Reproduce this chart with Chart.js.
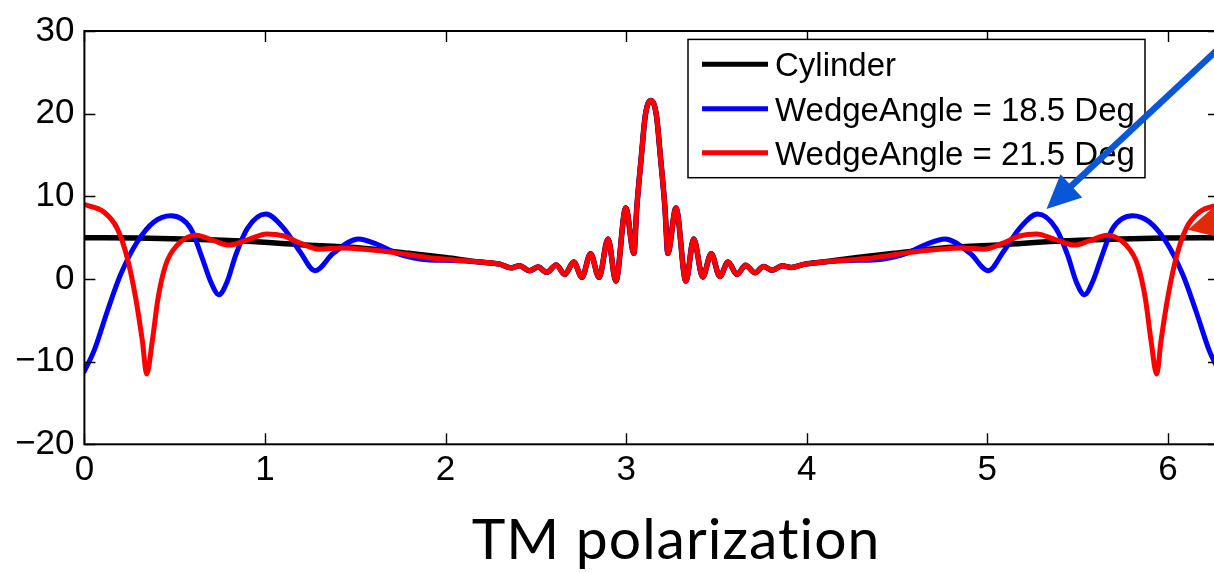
<!DOCTYPE html>
<html><head><meta charset="utf-8">
<script src="https://cdn.jsdelivr.net/npm/chart.js@4.4.1/dist/chart.umd.min.js"></script>
<style>
html,body{margin:0;padding:0;background:#fff;}
#wrap{position:relative;width:1214px;height:573px;overflow:hidden;background:#fff;}
canvas{display:block;}
</style></head><body>
<div id="wrap"><canvas id="c" width="1240" height="573"></canvas></div>
<script>
// ---- data ----
const xTicks = [0, 1, 2, 3, 4, 5, 6];
const yTicks = [-20, -10, 0, 10, 20, 30];
const seriesLabels = ['Cylinder', 'WedgeAngle = 18.5 Deg', 'WedgeAngle = 21.5 Deg'];
const seriesColors = ['#000000', '#0000ff', '#ff0000'];
const xLabel = 'TM polarization';

// shared central part (all three curves coincide)
const centerX = [2.19, 2.30, 2.36, 2.41, 2.465, 2.513, 2.56, 2.613, 2.66, 2.71, 2.755, 2.803, 2.85, 2.90, 2.943, 2.998, 3.043, 3.059, 3.085, 3.106, 3.137, 3.168, 3.189, 3.215, 3.231, 3.276, 3.331, 3.374, 3.424, 3.471, 3.519, 3.564, 3.614, 3.661, 3.714, 3.761, 3.809, 3.864, 3.914, 3.99, 4.09];
const centerY = [2.05, 1.8, 1.35, 1.6, 1.0, 1.45, 0.8, 1.7, 0.55, 2.05, 0.2, 3.05, 0.2, 4.85, -0.25, 8.6, 3.1, 8.6, 15, 19.75, 21.6, 19.75, 15, 8.6, 3.1, 8.6, -0.25, 4.85, 0.25, 3.05, 0.3, 2.05, 0.55, 1.65, 0.75, 1.5, 1.05, 1.6, 1.4, 1.8, 2.05];

// Cylinder flanks
const cylLeftX  = [0, 0.3, 0.6, 0.9, 1.2, 1.5, 1.8, 2.0];
const cylLeftY  = [5.0, 4.95, 4.8, 4.55, 4.15, 3.8, 3.1, 2.6];
const cylRightX = [4.28, 4.48, 4.78, 5.08, 5.38, 5.68, 5.98, 6.2832];
const cylRightY = [2.6, 3.1, 3.8, 4.15, 4.55, 4.8, 4.95, 5.0];

// WedgeAngle = 18.5 Deg flanks
const w185LeftX  = [0, 0.053, 0.127, 0.2, 0.293, 0.385, 0.478, 0.589, 0.653, 0.699, 0.745, 0.791, 0.838, 0.902, 1.004, 1.105, 1.194, 1.277, 1.378, 1.517, 1.62, 1.73, 1.82, 1.91, 2.05];
const w185LeftY  = [-11.15, -8.7, -3.9, 0.5, 4.5, 6.9, 7.65, 6.1, 2.5, -0.3, -1.9, -0.3, 2.9, 6.1, 7.85, 6.1, 3.3, 1.0, 3.1, 4.85, 4.2, 3.1, 2.55, 2.3, 2.25];
const w185RightX = [4.233, 4.373, 4.463, 4.553, 4.663, 4.766, 4.905, 5.006, 5.089, 5.178, 5.279, 5.381, 5.445, 5.492, 5.538, 5.584, 5.63, 5.694, 5.805, 5.898, 5.99, 6.083, 6.156, 6.230, 6.2832];
const w185RightY = [2.25, 2.3, 2.55, 3.1, 4.2, 4.85, 3.1, 1.0, 3.3, 6.1, 7.85, 6.1, 2.9, -0.3, -1.9, -0.3, 2.5, 6.1, 7.65, 6.9, 4.5, 0.5, -3.9, -8.7, -11.15];

// WedgeAngle = 21.5 Deg flanks
const w215LeftX  = [0, 0.108, 0.182, 0.238, 0.284, 0.321, 0.345, 0.376, 0.408, 0.45, 0.514, 0.62, 0.72, 0.80, 0.91, 1.01, 1.105, 1.2, 1.30, 1.42, 1.55, 1.75, 1.9, 2.05];
const w215LeftY  = [9.0, 8.1, 6.1, 2.5, -2.3, -7.5, -11.5, -7.5, -2.3, 1.7, 4.1, 5.3, 4.6, 4.1, 4.8, 5.45, 5.2, 4.3, 3.6, 3.75, 3.6, 3.1, 2.6, 2.3];
const w215RightX = [4.233, 4.383, 4.533, 4.733, 4.863, 4.983, 5.083, 5.178, 5.273, 5.373, 5.483, 5.563, 5.663, 5.769, 5.833, 5.875, 5.907, 5.938, 5.962, 5.999, 6.045, 6.101, 6.175, 6.2832];
const w215RightY = [2.3, 2.6, 3.1, 3.6, 3.75, 3.6, 4.3, 5.2, 5.45, 4.8, 4.1, 4.6, 5.3, 4.1, 1.7, -2.3, -7.5, -11.5, -7.5, -2.3, 2.5, 6.1, 8.1, 9.0];

// annotation arrows (data coordinates)
const blueArrowX = [6.40, 5.328];   // tail, tip
const blueArrowY = [30.3, 8.46];
const redHeadX = [6.111, 6.299, 6.332];
const redHeadY = [5.97, 9.58, 4.77];

// ---- build ----
function pts(xs, ys) { return xs.map((x, i) => ({ x: x, y: ys[i] })); }
function series(lx, ly, rx, ry) {
  return pts(lx, ly).concat(pts(centerX, centerY), pts(rx, ry));
}
const TICK_FONT = { family: "'Liberation Sans', Arial, Helvetica, sans-serif", size: 35 };

const matlabPlugin = {
  id: 'matlabAxes',
  afterDatasetsDraw(chart) {
    const { ctx, chartArea: a, scales: { x, y } } = chart;
    ctx.save();
    // ticks inside
    ctx.strokeStyle = '#000';
    ctx.lineWidth = 1.4;
    ctx.beginPath();
    xTicks.forEach(v => {
      const px = Math.round(x.getPixelForValue(v)) + 0.5;
      ctx.moveTo(px, a.bottom); ctx.lineTo(px, a.bottom - 11);
      ctx.moveTo(px, a.top); ctx.lineTo(px, a.top + 11);
    });
    yTicks.forEach(v => {
      const py = Math.round(y.getPixelForValue(v)) + 0.5;
      ctx.moveTo(a.left, py); ctx.lineTo(a.left + 11, py);
      ctx.moveTo(a.right, py); ctx.lineTo(a.right - 11, py);
    });
    ctx.stroke();
    // box
    ctx.lineWidth = 2;
    ctx.strokeRect(a.left, a.top, a.right - a.left, a.bottom - a.top);

    // legend
    const bx = a.left + 603.6, by = a.top + 8.4, bw = 457, bh = 138.3;
    ctx.fillStyle = '#fff';
    ctx.fillRect(bx, by, bw, bh);
    ctx.lineWidth = 1.5;
    ctx.strokeStyle = '#000';
    ctx.strokeRect(bx, by, bw, bh);
    const rowOff = [24.8, 69.3, 113.3];
    ctx.font = "33px 'Liberation Sans', Arial, Helvetica, sans-serif";
    ctx.textAlign = 'left';
    ctx.textBaseline = 'alphabetic';
    chart.data.datasets.forEach((ds, i) => {
      const ly = by + rowOff[i];
      ctx.strokeStyle = ds.borderColor;
      ctx.lineWidth = 5;
      ctx.beginPath();
      ctx.moveTo(bx + 14, ly); ctx.lineTo(bx + 80, ly);
      ctx.stroke();
      ctx.fillStyle = '#000';
      ctx.fillText(ds.label, bx + 87, ly + 12);
    });

    // blue arrow
    const tx = x.getPixelForValue(blueArrowX[0]), ty = y.getPixelForValue(blueArrowY[0]);
    const hx = x.getPixelForValue(blueArrowX[1]), hy = y.getPixelForValue(blueArrowY[1]);
    const ang = Math.atan2(hy - ty, hx - tx);
    const L = 34, W = 16;
    const baseX = hx - L * Math.cos(ang), baseY = hy - L * Math.sin(ang);
    ctx.strokeStyle = '#0a56d8';
    ctx.fillStyle = '#0a56d8';
    ctx.lineWidth = 6.5;
    ctx.beginPath();
    ctx.moveTo(tx, ty); ctx.lineTo(baseX + 4 * Math.cos(ang), baseY + 4 * Math.sin(ang));
    ctx.stroke();
    ctx.beginPath();
    ctx.moveTo(hx, hy);
    ctx.lineTo(baseX - W * Math.sin(ang), baseY + W * Math.cos(ang));
    ctx.lineTo(baseX + W * Math.sin(ang), baseY - W * Math.cos(ang));
    ctx.closePath();
    ctx.fill();

    // red arrowhead at right edge
    ctx.fillStyle = '#e02a0a';
    ctx.beginPath();
    redHeadX.forEach((v, i) => {
      const px = x.getPixelForValue(v), py = y.getPixelForValue(redHeadY[i]);
      if (i === 0) ctx.moveTo(px, py); else ctx.lineTo(px, py);
    });
    ctx.closePath();
    ctx.fill();

    // x-axis caption
    ctx.fillStyle = '#000';
    ctx.font = "57px Lato, 'Open Sans', sans-serif";
    try { ctx.letterSpacing = '1px'; } catch (e) {}
    ctx.textAlign = 'center';
    ctx.fillText(xLabel, 676, 559);
    ctx.restore();
  }
};

const common = { pointRadius: 0, pointHoverRadius: 0, fill: false, cubicInterpolationMode: 'monotone', borderCapStyle: 'round', borderJoinStyle: 'round' };

new Chart(document.getElementById('c'), {
  type: 'line',
  data: {
    datasets: [
      Object.assign({ label: seriesLabels[0], data: series(cylLeftX, cylLeftY, cylRightX, cylRightY), borderColor: seriesColors[0], borderWidth: 5.5, order: 3 }, common),
      Object.assign({ label: seriesLabels[1], data: series(w185LeftX, w185LeftY, w185RightX, w185RightY), borderColor: seriesColors[1], borderWidth: 5, order: 2 }, common),
      Object.assign({ label: seriesLabels[2], data: series(w215LeftX, w215LeftY, w215RightX, w215RightY), borderColor: seriesColors[2], borderWidth: 5, order: 1 }, common)
    ]
  },
  options: {
    responsive: false,
    devicePixelRatio: 1,
    animation: false,
    events: [],
    layout: { padding: { top: 28.3, left: 0, right: 21, bottom: 0 } },
    plugins: { legend: { display: false }, tooltip: { enabled: false }, title: { display: false } },
    scales: {
      x: {
        type: 'linear', min: 0, max: 6.2832,
        afterBuildTicks: s => { s.ticks = xTicks.map(v => ({ value: v })); },
        afterFit: s => { s.height = 128.7; },
        ticks: { font: TICK_FONT, color: '#000', padding: 5, maxRotation: 0, includeBounds: false, callback: v => String(v) },
        grid: { display: false, drawTicks: false, tickLength: 0 },
        border: { display: false }
      },
      y: {
        type: 'linear', min: -20, max: 30,
        afterBuildTicks: s => { s.ticks = yTicks.map(v => ({ value: v })); },
        afterFit: s => { s.width = 84.4; },
        ticks: { font: TICK_FONT, color: '#000', padding: 10, callback: v => (v < 0 ? '\u2212' + Math.abs(v) : String(v)) },
        grid: { display: false, drawTicks: false, tickLength: 0 },
        border: { display: false }
      }
    }
  },
  plugins: [matlabPlugin]
});
</script>
</body></html>
